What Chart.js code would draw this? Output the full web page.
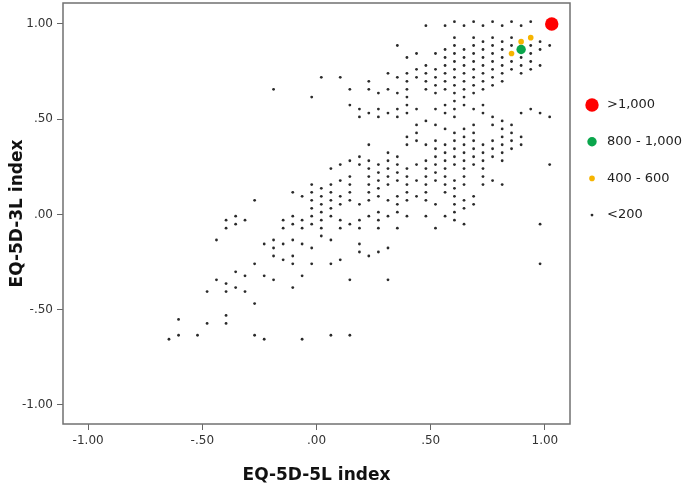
<!DOCTYPE html>
<html>
<head>
<meta charset="utf-8">
<script src="https://cdn.jsdelivr.net/npm/chart.js@4.4.1/dist/chart.umd.min.js"></script>
<style>
  body { margin: 0; background: #fff; }
</style>
</head>
<body>
<canvas id="chart" width="685" height="487"></canvas>
<script>
// Bin centres of the small (<200) points, one list of EQ-5D-3L values per EQ-5D-5L column
const colX = [-0.646, -0.604, -0.521, -0.479, -0.438, -0.396, -0.354, -0.313, -0.271, -0.229,
    -0.188, -0.146, -0.104, -0.063, -0.021, 0.021, 0.063, 0.104, 0.146, 0.188,
    0.229, 0.271, 0.313, 0.354, 0.396, 0.438, 0.479, 0.521, 0.563, 0.604,
    0.646, 0.688, 0.729, 0.771, 0.813, 0.854, 0.896, 0.938, 0.979, 1.021];
const colY = [
    [-0.655],
    [-0.551, -0.634],
    [-0.634],
    [-0.405, -0.572],
    [-0.134, -0.343],
    [-0.030, -0.072, -0.363, -0.405, -0.530, -0.572],
    [-0.009, -0.051, -0.301, -0.384],
    [-0.030, -0.322, -0.405],
    [0.074, -0.259, -0.468, -0.634],
    [-0.155, -0.322, -0.655],
    [0.657, -0.134, -0.176, -0.218, -0.343],
    [-0.030, -0.072, -0.155, -0.238],
    [0.116, -0.009, -0.051, -0.134, -0.218, -0.259, -0.384],
    [0.095, -0.030, -0.072, -0.155, -0.322, -0.655],
    [0.616, 0.157, 0.116, 0.074, 0.032, -0.009, -0.051, -0.176, -0.259],
    [0.720, 0.137, 0.095, 0.053, 0.012, -0.030, -0.072, -0.113],
    [0.241, 0.157, 0.116, 0.074, 0.032, -0.009, -0.134, -0.259, -0.634],
    [0.720, 0.262, 0.178, 0.095, 0.053, -0.030, -0.072, -0.238],
    [0.657, 0.574, 0.282, 0.199, 0.157, 0.116, 0.074, -0.051, -0.343, -0.634],
    [0.553, 0.512, 0.303, 0.262, 0.053, -0.030, -0.072, -0.155, -0.197],
    [0.699, 0.657, 0.532, 0.366, 0.282, 0.241, 0.199, 0.157, 0.116, 0.074, -0.009, -0.218],
    [0.637, 0.553, 0.512, 0.262, 0.220, 0.178, 0.137, 0.095, 0.012, -0.030, -0.072, -0.197],
    [0.741, 0.657, 0.532, 0.324, 0.282, 0.241, 0.199, 0.157, 0.074, -0.009, -0.176, -0.343],
    [0.887, 0.720, 0.637, 0.553, 0.512, 0.303, 0.262, 0.220, 0.178, 0.095, 0.053, 0.012, -0.072],
    [0.824, 0.741, 0.699, 0.657, 0.616, 0.574, 0.532, 0.407, 0.366, 0.241, 0.199, 0.157, 0.116, 0.074, -0.009],
    [0.845, 0.762, 0.720, 0.553, 0.470, 0.428, 0.387, 0.262, 0.178, 0.095],
    [0.991, 0.782, 0.741, 0.699, 0.657, 0.491, 0.366, 0.282, 0.241, 0.199, 0.157, 0.116, 0.074, -0.009],
    [0.845, 0.762, 0.720, 0.678, 0.637, 0.553, 0.470, 0.387, 0.345, 0.303, 0.262, 0.220, 0.178, 0.053, -0.072],
    [0.991, 0.866, 0.824, 0.782, 0.741, 0.699, 0.657, 0.574, 0.532, 0.449, 0.366, 0.324, 0.282, 0.241, 0.199, 0.157, 0.116, -0.009],
    [1.012, 0.928, 0.887, 0.845, 0.803, 0.762, 0.720, 0.678, 0.637, 0.595, 0.553, 0.512, 0.428, 0.387, 0.345, 0.303, 0.262, 0.178, 0.137, 0.095, 0.053, 0.012, -0.030],
    [0.991, 0.866, 0.824, 0.782, 0.741, 0.699, 0.657, 0.616, 0.574, 0.449, 0.407, 0.366, 0.324, 0.282, 0.241, 0.199, 0.157, 0.074, 0.032, -0.051],
    [1.012, 0.928, 0.887, 0.845, 0.803, 0.762, 0.720, 0.678, 0.637, 0.553, 0.470, 0.428, 0.387, 0.345, 0.303, 0.262, 0.095, 0.053],
    [0.991, 0.907, 0.866, 0.824, 0.782, 0.741, 0.699, 0.657, 0.574, 0.532, 0.366, 0.324, 0.282, 0.241, 0.199, 0.157],
    [1.012, 0.928, 0.887, 0.845, 0.803, 0.762, 0.720, 0.678, 0.512, 0.470, 0.387, 0.345, 0.303, 0.178],
    [0.991, 0.907, 0.866, 0.824, 0.782, 0.741, 0.699, 0.491, 0.449, 0.407, 0.366, 0.324, 0.282, 0.157],
    [1.012, 0.928, 0.887, 0.803, 0.762, 0.470, 0.428, 0.387, 0.345],
    [0.991, 0.824, 0.782, 0.741, 0.532, 0.407, 0.366],
    [1.012, 0.887, 0.845, 0.803, 0.762, 0.553],
    [0.907, 0.866, 0.782, 0.532, -0.051, -0.259],
    [0.887, 0.512, 0.262]
];

// Larger bins
const orangeX = [0.854, 0.896, 0.938];
const orangeY = [0.845, 0.907, 0.928];
const greenX = [0.896];
const greenY = [0.866];
const redX = [1.03];
const redY = [1.0];

const legendLabels = ['>1,000', '800 - 1,000', '400 - 600', '<200'];
const tickVals = [-1, -0.5, 0, 0.5, 1];
const tickLabels = ['-1.00', '-.50', '.00', '.50', '1.00'];

function toPoints(xs, ys) {
    return xs.map((x, i) => ({ x: x, y: ys[i] }));
}

const smallPoints = [];
colX.forEach((x, i) => {
    colY[i].forEach((y) => smallPoints.push({ x: x, y: y }));
});

// Box round the plot area
const frame = {
    id: 'frame',
    afterDatasetsDraw(chart) {
        const { ctx, chartArea } = chart;
        ctx.save();
        ctx.strokeStyle = '#707070';
        ctx.lineWidth = 1.5;
        ctx.strokeRect(chartArea.left, chartArea.top, chartArea.right - chartArea.left, chartArea.bottom - chartArea.top);
        ctx.restore();
    }
};

// Legend on the right, markers drawn at each dataset's own size
const sideLegend = {
    id: 'sideLegend',
    afterDraw(chart) {
        const ctx = chart.ctx;
        ctx.save();
        ctx.font = '13px "DejaVu Sans"';
        ctx.textBaseline = 'middle';
        chart.data.datasets.forEach((ds, i) => {
            const y = 105 + i * 36.7;
            ctx.beginPath();
            ctx.arc(592, y, ds.pointRadius, 0, Math.PI * 2);
            ctx.fillStyle = ds.backgroundColor;
            ctx.fill();
            ctx.fillStyle = '#222';
            ctx.fillText(ds.label, 607, y);
        });
        ctx.restore();
    }
};

const tickFont = { family: 'DejaVu Sans', size: 12 };
const titleFont = { family: 'DejaVu Sans', size: 17, weight: 'bold' };

new Chart(document.getElementById('chart'), {
    type: 'scatter',
    data: {
        datasets: [
            { label: legendLabels[0], data: toPoints(redX, redY), pointRadius: 6.7, backgroundColor: '#ff0000', borderWidth: 0 },
            { label: legendLabels[1], data: toPoints(greenX, greenY), pointRadius: 4.7, backgroundColor: '#0aa64c', borderWidth: 0 },
            { label: legendLabels[2], data: toPoints(orangeX, orangeY), pointRadius: 2.8, backgroundColor: '#f6b400', borderWidth: 0 },
            { label: legendLabels[3], data: smallPoints, pointRadius: 1.4, backgroundColor: '#2a2a2a', borderWidth: 0 }
        ]
    },
    options: {
        responsive: false,
        animation: false,
        devicePixelRatio: 1,
        layout: { autoPadding: false, padding: { top: 3, right: 115, bottom: 0, left: 0 } },
        plugins: {
            legend: { display: false },
            tooltip: { enabled: false }
        },
        scales: {
            x: {
                type: 'linear',
                min: -1.11,
                max: 1.11,
                afterBuildTicks: (scale) => { scale.ticks = tickVals.map((v) => ({ value: v })); },
                afterFit: (scale) => {
                    scale.height = 63;
                    scale.paddingLeft = 0;
                    scale.paddingRight = 0;
                },
                grid: { drawOnChartArea: false, tickLength: 6, color: '#666' },
                border: { display: false },
                ticks: {
                    autoSkip: false,
                    maxRotation: 0,
                    padding: 4,
                    color: '#333',
                    font: tickFont,
                    callback: (v) => tickLabels[tickVals.indexOf(v)]
                },
                title: { display: true, text: 'EQ-5D-5L index', color: '#111', font: titleFont, padding: { top: 0, bottom: 1 } }
            },
            y: {
                type: 'linear',
                min: -1.10,
                max: 1.11,
                afterBuildTicks: (scale) => { scale.ticks = tickVals.map((v) => ({ value: v })); },
                afterFit: (scale) => {
                    scale.width = 63;
                    scale.paddingTop = 0;
                    scale.paddingBottom = 0;
                },
                grid: { drawOnChartArea: false, tickLength: 6, color: '#666' },
                border: { display: false },
                ticks: {
                    autoSkip: false,
                    padding: 4,
                    color: '#333',
                    font: tickFont,
                    callback: (v) => tickLabels[tickVals.indexOf(v)]
                },
                title: { display: true, text: 'EQ-5D-3L index', color: '#111', font: titleFont, padding: { top: 7, bottom: 0 } }
            }
        }
    },
    plugins: [frame, sideLegend]
});
</script>
</body>
</html>
